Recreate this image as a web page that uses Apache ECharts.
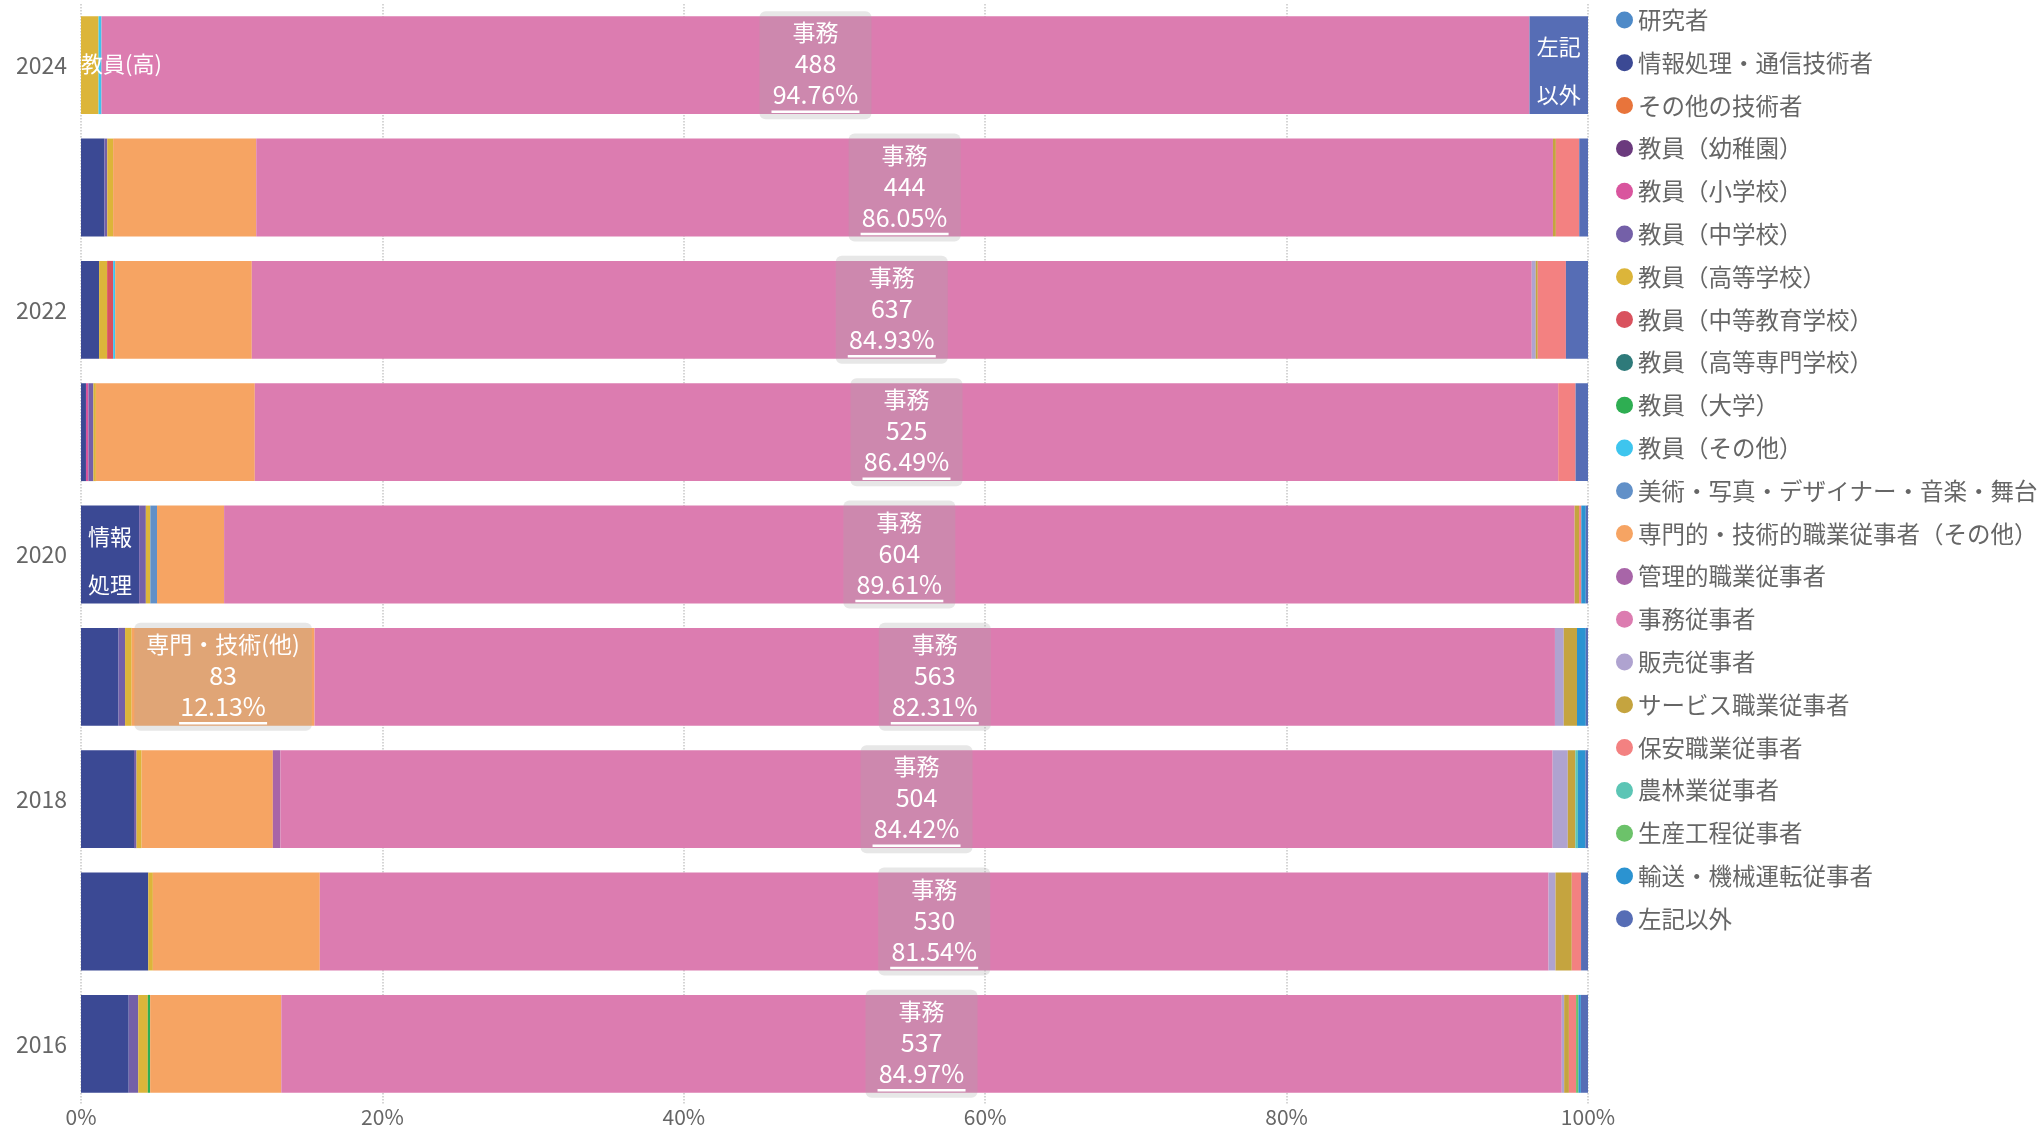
<!DOCTYPE html>
<html>
<head>
<meta charset="utf-8">
<script src="https://cdn.jsdelivr.net/npm/echarts@6/dist/echarts.min.js"></script>
<style>
  html, body { margin: 0; padding: 0; background: #fff; }
  #chart { width: 2040px; height: 1128px; }
</style>
</head>
<body>
<div id="chart"></div>
<script>
// 年（下から上）
var years = ['2016', '2017', '2018', '2019', '2020', '2021', '2022', '2023', '2024']

// 職業区分（凡例順 = 積み上げ順）
var jobs = [
  '研究者', '情報処理・通信技術者', 'その他の技術者',
  '教員（幼稚園）', '教員（小学校）', '教員（中学校）', '教員（高等学校）',
  '教員（中等教育学校）', '教員（高等専門学校）', '教員（大学）', '教員（その他）',
  '美術・写真・デザイナー・音楽・舞台', '専門的・技術的職業従事者（その他）',
  '管理的職業従事者', '事務従事者', '販売従事者', 'サービス職業従事者',
  '保安職業従事者', '農林業従事者', '生産工程従事者', '輸送・機械運転従事者', '左記以外'
]

var colors = [
  '#4e8ac8', '#3b4994', '#e8743b',
  '#6b3a7d', '#d9559e', '#7460a8', '#dcb53a',
  '#d9525e', '#2e7a7a', '#2eae52', '#3ec5ee',
  '#6190c8', '#f6a463',
  '#a865a8', '#dc7cb0', '#afa3d0', '#c5a43f',
  '#f38181', '#5cc5b5', '#6cc26a', '#2b93d1', '#566db5'
]

// 人数（jobs と同じ順）
var y2016 = [0, 20, 0, 0, 0, 4, 4, 0, 0, 1, 0, 0, 55, 0, 537, 1, 2, 3, 0, 1, 1, 3]
var y2017 = [0, 29, 0, 0, 0, 0, 2, 0, 0, 0, 0, 0, 72, 0, 530, 3, 7, 4, 0, 0, 0, 3]
var y2018 = [0, 21, 0, 0, 0, 1, 2, 0, 0, 0, 0, 0, 52, 3, 504, 6, 3, 0, 1, 0, 3, 1]
var y2019 = [0, 17, 0, 0, 0, 3, 3, 0, 0, 0, 0, 0, 83, 0, 563, 4, 6, 0, 0, 0, 4, 1]
var y2020 = [0, 26, 0, 0, 0, 3, 2, 0, 0, 0, 0, 3, 30, 0, 604, 0, 2, 1, 0, 0, 2, 1]
var y2021 = [0, 2, 0, 0, 1, 2, 1, 0, 0, 0, 0, 0, 64, 0, 525, 0, 0, 7, 0, 0, 0, 5]
var y2022 = [0, 9, 0, 0, 0, 0, 4, 3, 0, 0, 1, 0, 68, 0, 637, 2, 1, 14, 0, 0, 0, 11]
var y2023 = [0, 8, 0, 0, 0, 1, 2, 0, 0, 0, 0, 0, 49, 0, 444, 0, 1, 8, 0, 0, 0, 3]
var y2024 = [0, 0, 0, 0, 0, 0, 6, 0, 0, 0, 1, 0, 0, 0, 488, 0, 0, 0, 0, 0, 0, 20]

var byYear = [y2016, y2017, y2018, y2019, y2020, y2021, y2022, y2023, y2024]

var FONT = '"Noto Sans CJK JP", "Noto Sans", sans-serif'

// 白抜きの箱ラベル（名称・人数・割合）
function boxLabel(title) {
  return {
    show: true,
    position: 'inside',
    backgroundColor: 'rgba(170,170,170,0.28)',
    borderRadius: 6,
    padding: [6, 12, 6, 12],
    formatter: function(p) {
      return '{t|' + title + '}\n{n|' + p.data.count + '}\n{n|' + p.value.toFixed(2) + '%}\n{u| }'
    },
    rich: {
      t: { color: '#fff', fontSize: 23, lineHeight: 31, fontFamily: FONT },
      n: { color: '#fff', fontSize: 25, lineHeight: 31, fontFamily: FONT },
      u: { width: 88, height: 2.5, lineHeight: 3, fontSize: 1, backgroundColor: '#fff' }
    }
  }
}

function plainLabel(text, pos, dy) {
  return {
    show: true,
    position: pos || 'inside',
    distance: 0,
    offset: [0, dy || 0],
    color: '#fff',
    fontSize: 22,
    lineHeight: 48,
    fontFamily: FONT,
    formatter: text
  }
}

// 個別ラベル（系列番号 -> 年インデックス -> ラベル）
var labels = {}
labels[14] = {}
years.forEach(function(y, i) { labels[14][i] = boxLabel('事務') })
labels[12] = { 3: boxLabel('専門・技術(他)') }
labels[1] = { 4: plainLabel('情報\n処理', 'inside', 6) }
labels[6] = { 8: plainLabel('教員(高)', 'insideLeft', -2) }
labels[21] = { 8: plainLabel('左記\n以外', 'inside', 5) }

var series = jobs.map(function(name, j) {
  return {
    name: name,
    type: 'bar',
    stack: 'total',
    barCategoryGap: '20%',
    itemStyle: { color: colors[j] },
    emphasis: { disabled: true },
    data: byYear.map(function(arr, i) {
      var total = arr.reduce(function(a, b) { return a + b }, 0)
      var item = { value: arr[j] / total * 100, count: arr[j] }
      if (labels[j] && labels[j][i]) {
        item.label = labels[j][i]
      }
      return item
    })
  }
})

var chart = echarts.init(document.getElementById('chart'))
chart.setOption({
  animation: false,
  textStyle: { fontFamily: FONT },
  grid: { left: 81, right: 452, top: 4, bottom: 19 },
  legend: {
    orient: 'vertical',
    left: 1611,
    top: 3,
    icon: 'circle',
    itemWidth: 17,
    itemHeight: 17,
    itemGap: 18.8,
    textStyle: { color: '#666', fontSize: 23.5, lineHeight: 24 },
    data: jobs
  },
  xAxis: {
    type: 'value',
    min: 0,
    max: 100,
    interval: 20,
    axisLine: { show: false },
    axisTick: { show: false },
    axisLabel: { color: '#666', fontSize: 21, margin: 2, formatter: '{value}%' },
    splitLine: { show: true, lineStyle: { color: '#c8c8c8', type: 'dotted', width: 1.5 } }
  },
  yAxis: {
    type: 'category',
    data: years,
    axisLine: { show: false },
    axisTick: { show: false },
    axisLabel: { color: '#666', fontSize: 23, interval: 1, margin: 14 }
  },
  series: series
})
</script>
</body>
</html>
